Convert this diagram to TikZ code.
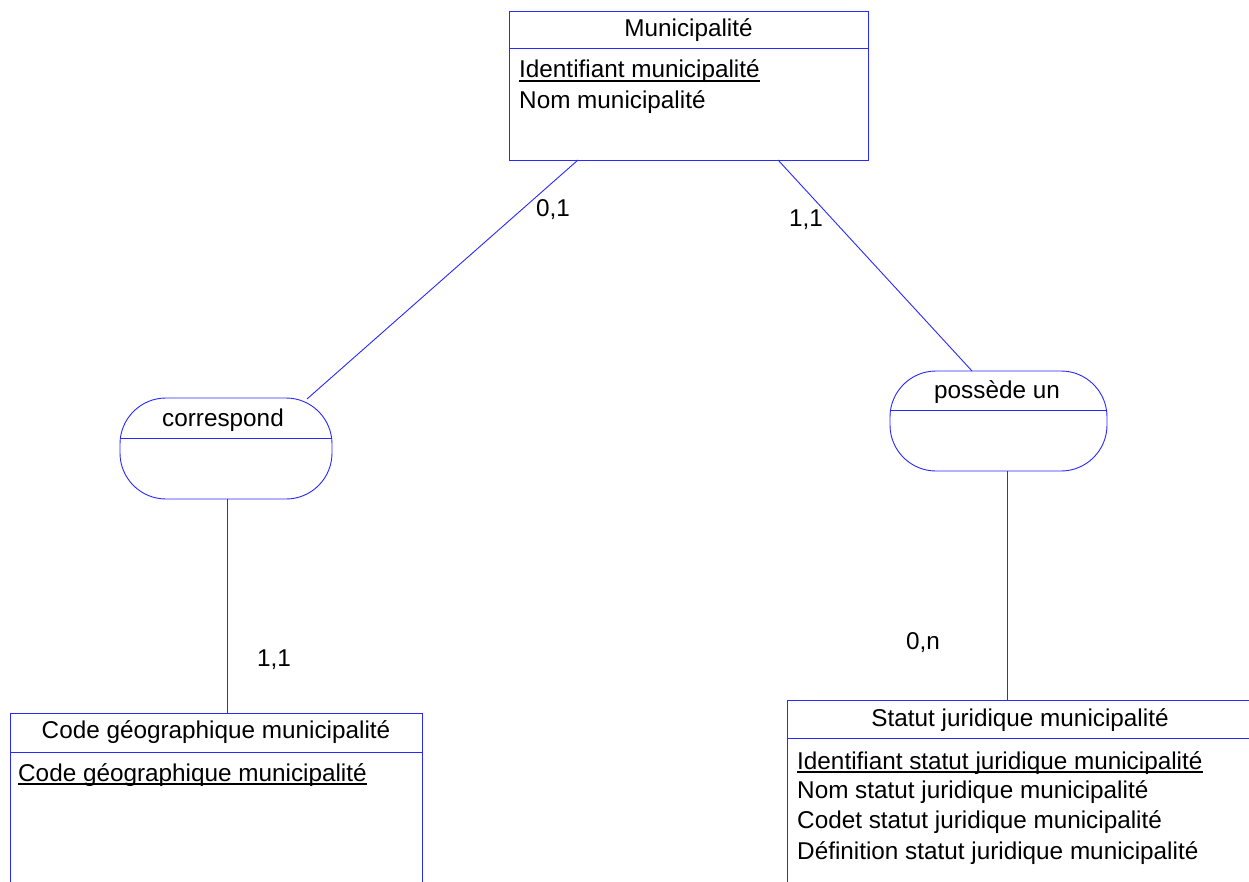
\documentclass[tikz,border=0pt]{standalone}
\usepackage{fontspec}
\setmainfont{Liberation Sans}
\begin{document}
\begin{tikzpicture}[x=1pt,y=-1pt,
  ln/.style={draw={rgb,255:red,40;green,40;blue,255},line width=0.9pt},
  ent/.style={ln,fill=none,inner sep=0pt,anchor=north west},
  rel/.style={ln,inner sep=0pt,rounded corners=46pt,minimum width=212pt,minimum height=101pt},
  txt/.style={inner sep=0pt,font=\fontsize{24.3}{29}\selectfont,text=black},
  ttl/.style={txt,anchor=base},
  att/.style={txt,anchor=base west},
  card/.style={txt,anchor=base west},
  ul/.style={draw=black,line width=1.4pt}]
\clip (0,0) rectangle (1249,882);
\fill[white] (0,0) rectangle (1249,882);

% Municipalite entity
\node[ent,minimum width=359pt,minimum height=149pt] (mun) at (509,11) {};
\draw[ln] (509,48) -- (868,48);
\node[ttl] (munT) at (688.5,37) {Municipalité};
\node[att] (munA1) at (519,78) {Identifiant municipalité};
\draw[ul] ([yshift=-3pt]munA1.base west) -- ([yshift=-3pt]munA1.base east);
\node[att] (munA2) at (519,109) {Nom municipalité};

% relationship correspond
\node[rel] (corr) at (226,448.5) {};
\draw[ln] (120.5,438) -- (331.5,438);
\node[ttl] (corrT) at (223,426) {correspond};

% relationship possede un
\node[rel,minimum width=217pt,minimum height=100pt] (pos) at (998.5,421) {};
\draw[ln] (890.5,410) -- (1106.5,410);
\node[ttl] (posT) at (997,398) {possède un};

% Code geographique entity
\node[ent,minimum width=412pt,minimum height=200pt] (code) at (10,713) {};
\draw[ln] (10,752) -- (422,752);
\node[ttl] (codeT) at (216,738) {Code géographique municipalité};
\node[att] (codeA1) at (18,781) {Code géographique municipalité};
\draw[ul] ([yshift=-3pt]codeA1.base west) -- ([yshift=-3pt]codeA1.base east);

% Statut juridique entity
\node[ent,minimum width=466pt,minimum height=220pt] (stat) at (787,700) {};
\draw[ln] (787,738) -- (1253,738);
\node[ttl] (statT) at (1020,726) {Statut juridique municipalité};
\node[att] (statA1) at (797,769) {Identifiant statut juridique municipalité};
\draw[ul] ([yshift=-3pt]statA1.base west) -- ([yshift=-3pt]statA1.base east);
\node[att] (statA2) at (797,798) {Nom statut juridique municipalité};
\node[att] (statA3) at (797,828) {Codet statut juridique municipalité};
\node[att] (statA4) at (797,859) {Définition statut juridique municipalité};

% connectors
\coordinate (m1) at (578,160);
\coordinate (c1) at (307,399);
\coordinate (m2) at (778,160);
\coordinate (p1) at (972,371);
\coordinate (c2) at (227,499);
\coordinate (k2c) at (227,713);
\coordinate (p2) at (1007,471);
\coordinate (s2) at (1007,700);
\draw[ln] (m1) -- (c1);
\draw[ln] (m2) -- (p1);
\draw[ln] (c2) -- (k2c);
\draw[ln] (p2) -- (s2);

% cardinalities
\node[card] (k1) at (536,217) {0,1};
\node[card] (k2) at (789,227) {1,1};
\node[card] (k3) at (257,666) {1,1};
\node[card] (k4) at (906,649) {0,n};
\end{tikzpicture}
\end{document}
